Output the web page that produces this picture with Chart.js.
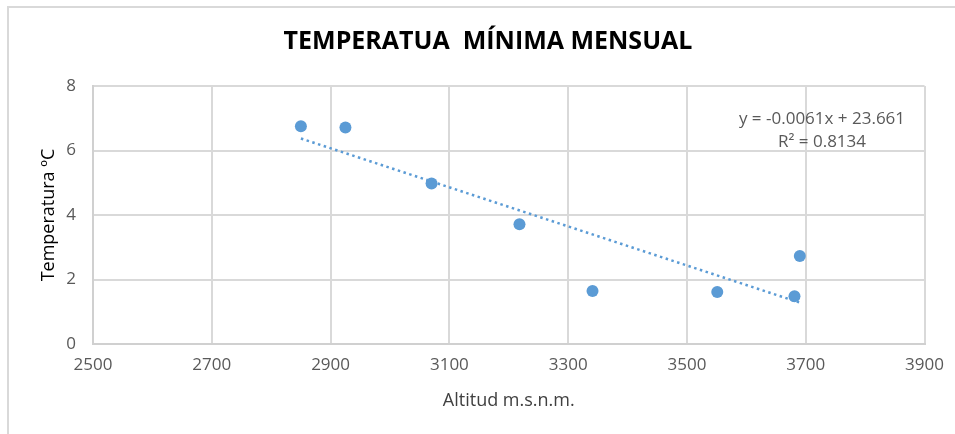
<!DOCTYPE html>
<html>
<head>
<meta charset="utf-8">
<script src="https://cdn.jsdelivr.net/npm/chart.js@4"></script>
<style>
  html, body { margin: 0; padding: 0; background: #ffffff; }
  #wrap { width: 955px; height: 434px; position: relative; }
</style>
</head>
<body>
<div id="wrap"><canvas id="c" width="955" height="434"></canvas></div>
<script>
// ---- data ----
const chartTitle = "TEMPERATUA  MÍNIMA MENSUAL";
const xAxisTitle = "Altitud m.s.n.m.";
const yAxisTitle = "Temperatura ºC";
const altitude = [2850, 2925, 3070, 3218, 3341, 3551, 3681, 3690];
const temperature = [6.75, 6.71, 4.98, 3.71, 1.64, 1.61, 1.48, 2.73];
const xTicks = [2500, 2700, 2900, 3100, 3300, 3500, 3700, 3900];
const yTicks = [0, 2, 4, 6, 8];
const equationText = "y = -0.0061x + 23.661";
const r2Text = "R² = 0.8134";

// linear regression trendline (derived from the data above)
function linreg(xs, ys) {
  const n = xs.length;
  const mx = xs.reduce((a, b) => a + b, 0) / n;
  const my = ys.reduce((a, b) => a + b, 0) / n;
  let sxy = 0, sxx = 0;
  for (let i = 0; i < n; i++) { sxy += (xs[i] - mx) * (ys[i] - my); sxx += (xs[i] - mx) ** 2; }
  const m = sxy / sxx;
  return { m, b: my - m * mx };
}
const fit = linreg(altitude, temperature);
const xMin = Math.min(...altitude), xMax = Math.max(...altitude);
const trendPoints = [xMin, xMax].map(x => ({ x, y: fit.m * x + fit.b }));
const scatterPoints = altitude.map((x, i) => ({ x, y: temperature[i] }));

const FONT = "'Open Sans', 'Liberation Sans', sans-serif";
const TEXT = '#595959';
const BLUE = '#5b9bd5';

const decorPlugin = {
  id: 'decor',
  beforeDraw(chart) {
    const ctx = chart.ctx;
    ctx.save();
    ctx.fillStyle = '#ffffff';
    ctx.fillRect(0, 0, chart.width, chart.height);
    ctx.strokeStyle = '#d9d9d9';
    ctx.lineWidth = 2;
    ctx.strokeRect(8, 7, chart.width + 20, chart.height + 20);
    ctx.fillStyle = '#000000';
    ctx.font = "bold 25px " + FONT;
    ctx.textAlign = 'center';
    ctx.textBaseline = 'middle';
    ctx.fillText(chartTitle, 488, 42);
    ctx.restore();
  },
  afterDatasetsDraw(chart) {
    const ctx = chart.ctx;
    ctx.save();
    ctx.fillStyle = TEXT;
    ctx.font = "17px " + FONT;
    ctx.textAlign = 'center';
    ctx.textBaseline = 'middle';
    ctx.fillText(equationText, 822, 119);
    ctx.fillText(r2Text, 822, 142);
    ctx.restore();
  }
};

new Chart(document.getElementById('c'), {
  type: 'scatter',
  data: {
    datasets: [
      {
        label: 'Tendencia',
        type: 'line',
        data: trendPoints,
        borderColor: BLUE,
        borderWidth: 2.5,
        borderDash: [2.5, 3.5],
        pointRadius: 0,
        fill: false,
        tension: 0
      },
      {
        label: 'Temperatura',
        data: scatterPoints,
        backgroundColor: BLUE,
        borderColor: BLUE,
        pointRadius: 6,
        pointHoverRadius: 6,
        borderWidth: 0
      }
    ]
  },
  options: {
    responsive: false,
    animation: false,
    layout: { padding: { left: 10, right: 30, top: 86, bottom: 10 } },
    plugins: {
      legend: { display: false },
      tooltip: { enabled: false },
      title: { display: false }
    },
    scales: {
      x: {
        type: 'linear',
        min: xTicks[0],
        max: xTicks[xTicks.length - 1],
        afterBuildTicks(scale) { scale.ticks = xTicks.map(v => ({ value: v })); },
        afterFit(scale) { scale.height = 80; },
        grid: { color: '#d9d9d9', lineWidth: 2, drawTicks: false },
        border: { color: '#d0d0d0', width: 2 },
        ticks: { color: TEXT, font: { family: FONT, size: 17 }, padding: 11, maxRotation: 0, callback: v => String(v) },
        title: { display: true, text: xAxisTitle, color: '#404040', font: { family: FONT, size: 18 }, padding: { top: 0, bottom: 12 } }
      },
      y: {
        type: 'linear',
        min: yTicks[0],
        max: yTicks[yTicks.length - 1],
        afterBuildTicks(scale) { scale.ticks = yTicks.map(v => ({ value: v })); },
        afterFit(scale) { scale.width = 83; },
        grid: { color: '#d9d9d9', lineWidth: 2, drawTicks: false },
        border: { color: '#d0d0d0', width: 2 },
        ticks: { color: TEXT, font: { family: FONT, size: 17 }, padding: 17, callback: v => String(v) },
        title: { display: true, text: yAxisTitle, color: '#000000', font: { family: FONT, size: 18 }, padding: { top: 28, bottom: 0 } }
      }
    }
  },
  plugins: [decorPlugin]
});
</script>
</body>
</html>
